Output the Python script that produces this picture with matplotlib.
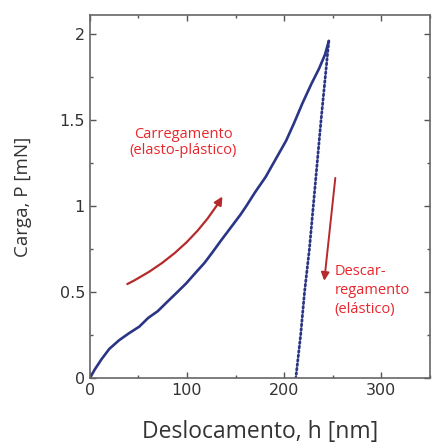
import matplotlib.pyplot as plt
from matplotlib import ticker

# loading curve
load_h = [0, 5, 12, 20, 30, 40, 51, 60, 70, 79, 90, 99, 110, 118, 126, 135,
          147, 155, 161, 170, 181, 190, 202, 210, 219, 228, 236, 242, 246]
load_p = [0, 0.05, 0.11, 0.17, 0.22, 0.26, 0.30, 0.35, 0.39, 0.44, 0.50, 0.55,
          0.62, 0.67, 0.73, 0.80, 0.89, 0.95, 1.00, 1.08, 1.17, 1.26, 1.38,
          1.48, 1.60, 1.71, 1.80, 1.88, 1.96]

# unloading curve
unload_h = [246, 242, 238, 234, 230, 226, 221, 217, 212]
unload_p = [1.96, 1.73, 1.50, 1.25, 1.00, 0.75, 0.50, 0.25, 0.0]

x_ticks = [0, 100, 200, 300]
y_ticks = [0, 0.5, 1, 1.5, 2]

blue = '#2a3585'
red_txt = '#e8262b'
red_arr = '#b52a2a'

fig = plt.figure(figsize=(4.32, 4.47), dpi=100)
ax = fig.add_axes([0.208, 0.154, 0.787, 0.812])

ax.plot(load_h, load_p, color=blue, lw=1.9, solid_capstyle='round')
ax.plot(unload_h, unload_p, color=blue, lw=2.0, ls=(0, (0.6, 1.0)),
        dash_capstyle='round')

ax.set_xlim(0, 350)
ax.set_ylim(0, 2.11)
ax.xaxis.set_major_locator(ticker.FixedLocator(x_ticks))
ax.yaxis.set_major_locator(ticker.FixedLocator(y_ticks))
ax.xaxis.set_minor_locator(ticker.MultipleLocator(50))
ax.yaxis.set_minor_locator(ticker.MultipleLocator(0.25))
ax.yaxis.set_major_formatter(ticker.FuncFormatter(lambda v, p: '%g' % v))
ax.tick_params(which='both', direction='in', top=True, right=True,
               color='#555555', labelsize=11.5, labelcolor='#333333', width=1)
ax.tick_params(which='major', length=4)
ax.tick_params(which='minor', length=2.5)
for s in ax.spines.values():
    s.set_color('#666666')
    s.set_linewidth(1.2)

ax.set_xlabel('Deslocamento, h [nm]', fontsize=16.5, color='#333333',
              labelpad=16, family='Open Sans')
ax.set_ylabel('Carga, P [mN]', fontsize=13.5, color='#333333',
              labelpad=20, family='Open Sans')

ax.text(96, 1.37, 'Carregamento\n(elasto-plástico)', color=red_txt,
        fontsize=10.5, ha='center', va='center', family='Open Sans',
        linespacing=1.1)
ax.annotate('', xy=(138, 1.07), xytext=(36, 0.54),
            arrowprops=dict(arrowstyle='-|>', color=red_arr, lw=1.6,
                            mutation_scale=12,
                            connectionstyle='arc3,rad=0.15'))

ax.annotate('', xy=(241, 0.55), xytext=(253, 1.18),
            arrowprops=dict(arrowstyle='-|>', color=red_arr, lw=1.4,
                            mutation_scale=12))
ax.text(252, 0.51, 'Descar-\nregamento\n(elástico)', color=red_txt,
        fontsize=10.5, ha='left', va='center', family='Open Sans',
        linespacing=1.35)

fig.savefig('out.png', dpi=100)
